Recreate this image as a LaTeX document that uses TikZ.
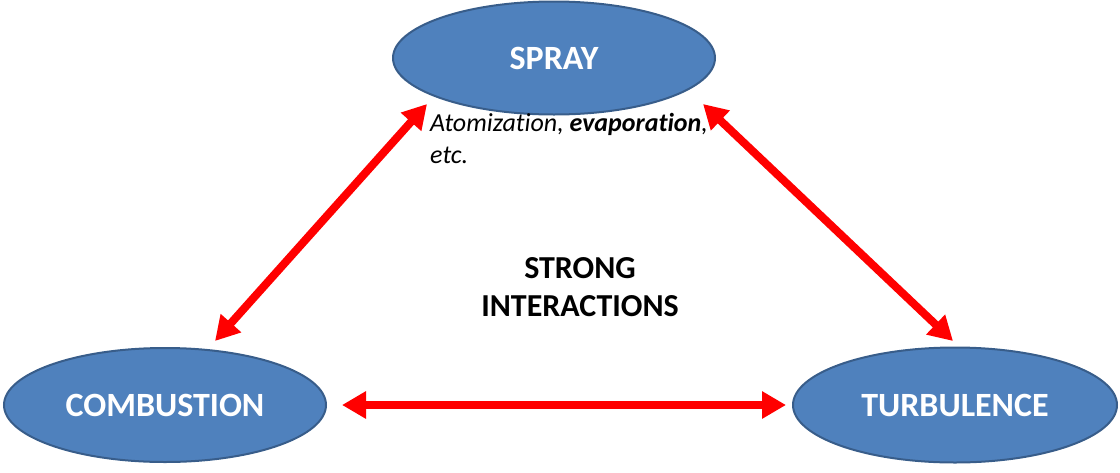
\documentclass[tikz,border=0pt]{standalone}
\usepackage{fontspec}
\setmainfont[Ligatures=NoCommon]{Carlito}
\usetikzlibrary{shapes.geometric,arrows.meta}
\definecolor{nodeblue}{RGB}{79,129,189}
\definecolor{nodeborder}{RGB}{56,93,138}
\definecolor{arrowred}{RGB}{255,0,0}
\tikzset{
  blob/.style={ellipse, draw=nodeborder, line width=2pt, fill=nodeblue, inner sep=0pt,
    text=white, font=\fontsize{34}{38}\selectfont\bfseries},
  link/.style={draw=arrowred, line width=8pt,
    {Triangle[length=24pt,width=26pt]}-{Triangle[length=24pt,width=26pt]}},
  note/.style={font=\fontsize{26}{32}\selectfont\itshape, align=left, inner sep=0pt, anchor=north west},
  title/.style={font=\fontsize{32}{38}\selectfont\bfseries, align=center, inner sep=0pt}
}
\begin{document}
\begin{tikzpicture}[x=1pt,y=-1pt]
\useasboundingbox (0,0) rectangle (1120,472);
\node[blob, minimum width=322pt, minimum height=113pt] (spray) at (554,58) {SPRAY};
\node[blob, minimum width=322pt, minimum height=114pt] (comb) at (165,405) {COMBUSTION};
\node[blob, minimum width=324pt, minimum height=115pt] (turb) at (955,405) {TURBULENCE};
\node[note] (atom) at (430,113) {Atomization, \textbf{evaporation},\\etc.};
\node[title] (strong) at (580,287) {STRONG\\INTERACTIONS};
\coordinate (ls) at (427,104);
\coordinate (lc) at (215,341);
\coordinate (rs) at (703,104);
\coordinate (rt) at (953,341);
\draw[link] (lc) -- (ls);
\draw[link] (rs) -- (rt);
\draw[link, shorten <=15pt, shorten >=6pt] (comb.east) -- (turb.west);
\end{tikzpicture}
\end{document}
